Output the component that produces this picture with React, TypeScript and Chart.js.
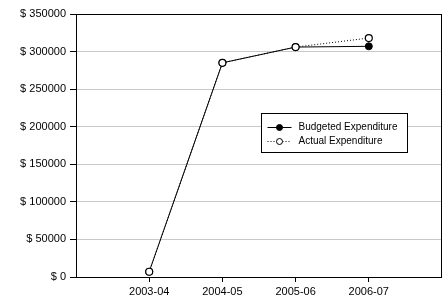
import React, { useEffect, useRef } from "react";
import { Chart, registerables } from "chart.js";

Chart.register(...registerables);

const categories = ["", "2003-04", "2004-05", "2005-06", "2006-07", ""];
const budgeted = [null, 7000, 285000, 306000, 307000, null];
const actual = [null, 7000, 285000, 306000, 318000, null];
const seriesNames = ["Budgeted Expenditure", "Actual Expenditure"];

const FONT = "'Liberation Sans', Arial, sans-serif";

const framePlugin = {
  id: "frame",
  afterDatasetsDraw(chart: any) {
    const { ctx, chartArea } = chart;
    const { left, top, right, bottom } = chartArea;
    ctx.save();
    ctx.strokeStyle = "#000";
    ctx.lineWidth = 1;
    ctx.strokeRect(Math.round(left) + 0.5, Math.round(top) + 0.5, Math.round(right - left) - 1, Math.round(bottom - top));
    ctx.restore();
  },
  afterDraw(chart: any) {
    const { ctx, chartArea } = chart;
    const w = chartArea.right - chartArea.left;
    const h = chartArea.bottom - chartArea.top;
    const bx = Math.round(chartArea.left + w * 0.505) + 0.5;
    const by = Math.round(chartArea.top + h * 0.375) + 0.5;
    const bw = 146;
    const bh = 39;
    ctx.save();
    ctx.fillStyle = "#fff";
    ctx.fillRect(bx, by, bw, bh);
    ctx.strokeStyle = "#000";
    ctx.lineWidth = 1;
    ctx.strokeRect(bx, by, bw, bh);
    ctx.font = `10px ${FONT}`;
    ctx.textBaseline = "middle";
    ctx.fillStyle = "#000";
    const rows = [by + 13, by + 27];
    for (let i = 0; i < 2; i++) {
      const y = Math.round(rows[i]) + 0.5;
      ctx.beginPath();
      ctx.setLineDash(i === 0 ? [] : [1, 2]);
      ctx.moveTo(bx + 6, y);
      ctx.lineTo(bx + 30, y);
      ctx.strokeStyle = "#000";
      ctx.stroke();
      ctx.setLineDash([]);
      ctx.beginPath();
      ctx.arc(bx + 18, y, 3, 0, Math.PI * 2);
      ctx.fillStyle = i === 0 ? "#000" : "#fff";
      ctx.fill();
      ctx.stroke();
      ctx.fillStyle = "#000";
      ctx.fillText(seriesNames[i], bx + 37, y);
    }
    ctx.restore();
  },
};

export default function App() {
  const ref = useRef<HTMLCanvasElement>(null);
  useEffect(() => {
    const chart = new Chart(ref.current!, {
      type: "line",
      data: {
        labels: categories,
        datasets: [
          {
            label: seriesNames[1],
            data: actual,
            borderColor: "#000",
            borderWidth: 1,
            borderDash: [1, 2],
            pointRadius: 3.5,
            pointBackgroundColor: "#fff",
            pointBorderColor: "#000",
            pointBorderWidth: 1.2,
            tension: 0,
            order: 0,
          },
          {
            label: seriesNames[0],
            data: budgeted,
            borderColor: "#000",
            borderWidth: 1,
            pointRadius: 3.5,
            pointBackgroundColor: "#000",
            pointBorderColor: "#000",
            pointBorderWidth: 1,
            tension: 0,
            order: 1,
          },
        ],
      },
      options: {
        animation: false,
        responsive: false,
        maintainAspectRatio: false,
        layout: { padding: { top: 14, right: 6, left: 0, bottom: 0 } },
        plugins: { legend: { display: false }, tooltip: { enabled: false } },
        scales: {
          x: {
            offset: false,
            border: { display: false },
            grid: {
              drawOnChartArea: false,
              tickColor: (c: any) =>
                c.index === 0 || c.index === categories.length - 1 ? "rgba(0,0,0,0)" : "#000",
              tickLength: 5,
            },
            ticks: {
              color: "#000",
              font: { family: FONT, size: 11 },
              padding: 3,
              maxRotation: 0,
              autoSkip: false,
            },
            afterFit(scale: any) {
              scale.height = 27;
            },
          },
          y: {
            min: 0,
            max: 350000,
            border: { display: false },
            grid: { color: "#c8c8c8", tickColor: "#000", tickLength: 6 },
            ticks: {
              stepSize: 50000,
              color: "#000",
              font: { family: FONT, size: 11 },
              padding: 4,
              callback: (v: any) => "$ " + v,
            },
            afterFit(scale: any) {
              scale.width = 76;
            },
          },
        },
      },
      plugins: [framePlugin],
    });
    return () => chart.destroy();
  }, []);
  return (
    <div style={{ position: "absolute", left: 0, top: 0, width: 448, height: 304, background: "#fff" }}>
      <canvas ref={ref} width={448} height={304} />
    </div>
  );
}
